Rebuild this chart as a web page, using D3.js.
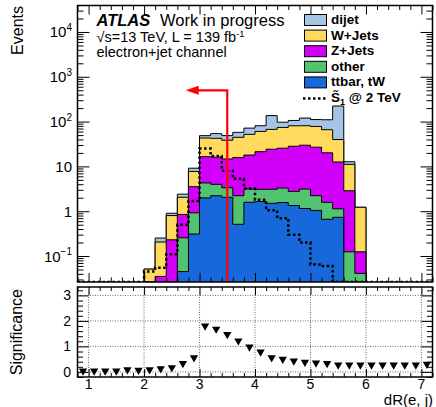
<!DOCTYPE html>
<html><head><meta charset="utf-8">
<script src="https://cdn.jsdelivr.net/npm/d3@7"></script>
<style>
body{margin:0;background:#fff}
svg{display:block}
text{font-family:"Liberation Sans",Arial,Helvetica,sans-serif;fill:#000}
</style>
</head><body>
<svg id="c" width="436" height="407"></svg>
<script>
// ---------------- data ----------------
const binWidth = 0.2;
// stacked background bins (lower edges)
const stackBins = [2.0,2.2,2.4,2.6,2.8,3.0,3.2,3.4,3.6,3.8,4.0,4.2,4.4,4.6,4.8,5.0,5.2,5.4,5.6,5.8];
const ttbar = [0,0,0,0.045,0.31,1.98,2.22,2.04,0.51,1.58,1.64,1.5,1.56,1.34,1.15,1.04,0.66,0.73,0,0];
const other = [0,0,0,0.21,0.61,2.3,1.76,1.3,1.71,1.54,1.45,1.59,1.73,1.43,1.97,1.18,0.92,0.4,0.124,0.041];
const zjets = [0.003,0.035,0.23,0.59,2.6,12.2,12.1,11.3,13.5,14.8,18.2,21.1,22.2,25.4,26.6,24.6,18.5,11.4,2.74,0.083];
const wjets = [0.048,0.17,0.57,1.2,4.2,26.5,26.3,23.7,28.9,34,39.1,42.8,48.6,52.6,51.1,51.2,45.8,27.2,8.24,1.1];
const dijet = [0,0.047,0.10,0.36,1.4,5.6,11.4,10.3,12.9,19.6,20.4,69,22.9,25.2,39,33,44,183,1.6,0];

// signal and significance, bins from 0.8 to 7.2
const allBins = [0.8,1.0,1.2,1.4,1.6,1.8,2.0,2.2,2.4,2.6,2.8,3.0,3.2,3.4,3.6,3.8,4.0,4.2,4.4,4.6,4.8,5.0,5.2,5.4,5.6,5.8,6.0,6.2,6.4,6.6,6.8,7.0];
const signal = [0,0,0,0,0,0,0.045,0.055,0.11,0.5,1.7,25,17,8,5.3,3.2,1.8,1.05,0.7,0.3,0.2,0.065,0.06,0,0,0,0,0,0,0,0,0];
const significance = [0.04,0.04,0.04,0.04,0.09,0.07,0.09,0.13,0.17,0.33,0.56,1.8,1.68,1.47,1.22,0.98,0.78,0.56,0.5,0.43,0.38,0.35,0.33,0.27,0.27,0.27,0.27,0.27,0.27,0.27,0.27,0.3];

const legendLabels = ["dijet","W+Jets","Z+Jets","other","ttbar, tW"];
const legendColors = ["#a6c4e6","#ffda5c","#d200fa","#52c370","#1768da"];
const stackKeys = ["ttbar","other","zjets","wjets","dijet"];
const stackColors = {ttbar:"#1768da",other:"#52c370",zjets:"#d200fa",wjets:"#ffda5c",dijet:"#a6c4e6"};

const logMajorTicks = [0.1,1,10,100,1000,10000];
const xMajorTicks = [1,2,3,4,5,6,7];
const sigMajorTicks = [0,1,2,3];
const cutValue = 3.5, arrowLevel = 500, arrowTip = 2.75;

// ---------------- layout ----------------
const svg = d3.select("#c");
const fx0 = 77.5, fx1 = 432.5, uy0 = 5.5, uy1 = 282, ly0 = 287, ly1 = 377;
const x = d3.scaleLinear().domain([0.8,7.2]).range([fx0,fx1]);
const y = d3.scaleLog().domain([0.0263,3.9e4]).range([uy1,uy0]);
const yl = d3.scaleLinear().domain([-0.2,3.33]).range([ly1,ly0]);
const ymin = y.domain()[0];

svg.append("defs").append("clipPath").attr("id","upclip")
  .append("rect").attr("x",fx0).attr("y",uy0).attr("width",fx1-fx0).attr("height",uy1-uy0);

// ---------------- stacked histogram ----------------
const rows = stackBins.map((b,i)=>({bin:b, ttbar:ttbar[i], other:other[i], zjets:zjets[i], wjets:wjets[i], dijet:dijet[i]}));
const series = d3.stack().keys(stackKeys)(rows);
const line = d3.line().x(d=>d[0]).y(d=>d[1]);
const up = svg.append("g").attr("clip-path","url(#upclip)");

series.slice().reverse().forEach(s=>{
  const pts = [[x(stackBins[0]), y(ymin)]];
  s.forEach((d,i)=>{
    const v = Math.max(d[1], ymin);
    pts.push([x(stackBins[i]), y(v)]);
    pts.push([x(stackBins[i]+binWidth), y(v)]);
  });
  pts.push([x(stackBins[stackBins.length-1]+binWidth), y(ymin)]);
  up.append("path").attr("d", line(pts))
    .attr("fill", stackColors[s.key]).attr("stroke","#000").attr("stroke-width",1);
});

// signal dotted step line
{
  const pts = [];
  allBins.forEach((b,i)=>{
    const v = Math.max(signal[i], ymin);
    pts.push([x(b), y(v)]);
    pts.push([x(b+binWidth), y(v)]);
  });
  up.append("path").attr("d", line(pts)).attr("fill","none")
    .attr("stroke","#000").attr("stroke-width",2.5).attr("stroke-dasharray","2.5,2.5");
}

// red cut arrow
{
  const g = svg.append("g");
  g.append("path").attr("d", line([[x(cutValue), y(ymin)],[x(cutValue), y(arrowLevel)],[x(arrowTip)+10, y(arrowLevel)]]))
    .attr("fill","none").attr("stroke","#ff0000").attr("stroke-width",2.2);
  const tx = x(arrowTip), ty = y(arrowLevel);
  g.append("path").attr("d", line([[tx,ty],[tx+13,ty-4.5],[tx+13,ty+4.5]])+"Z").attr("fill","#ff0000");
}

// ---------------- upper axes ----------------
function logMinors(){
  const out = [];
  [0.01,0.1,1,10,100,1000,10000].forEach(d=>{
    for(let m=2;m<=9;m++){ const v=d*m; if(v>=y.domain()[0] && v<=y.domain()[1]) out.push(v); }
  });
  return out;
}
function xMinors(lo,hi){
  const out=[]; for(let k=Math.ceil(lo/0.2);k*0.2<=hi+1e-9;k++){ const v=+(k*0.2).toFixed(2); if(Math.abs(v-Math.round(v))>1e-6) out.push(v);} return out;
}
const noDomain = g=>g.select(".domain").remove();
const tickStroke = g=>g.selectAll("line").attr("stroke","#000").attr("stroke-width",1);

svg.append("g").attr("transform",`translate(${fx0},0)`)
  .call(d3.axisLeft(y).tickValues(logMajorTicks).tickSize(-12).tickFormat("")).call(noDomain).call(tickStroke);
svg.append("g").attr("transform",`translate(${fx0},0)`)
  .call(d3.axisLeft(y).tickValues(logMinors()).tickSize(-6).tickFormat("")).call(noDomain).call(tickStroke);
svg.append("g").attr("transform",`translate(${fx1},0)`)
  .call(d3.axisRight(y).tickValues(logMajorTicks).tickSize(-12).tickFormat("")).call(noDomain).call(tickStroke);
svg.append("g").attr("transform",`translate(${fx1},0)`)
  .call(d3.axisRight(y).tickValues(logMinors()).tickSize(-6).tickFormat("")).call(noDomain).call(tickStroke);

const xmin = xMinors(0.8,7.2);
[[uy1,d3.axisBottom],[uy0,d3.axisTop]].forEach(([yy,ax])=>{
  svg.append("g").attr("transform",`translate(0,${yy})`)
    .call(ax(x).tickValues(xMajorTicks).tickSize(-9).tickFormat("")).call(noDomain).call(tickStroke);
  svg.append("g").attr("transform",`translate(0,${yy})`)
    .call(ax(x).tickValues(xmin).tickSize(-4.5).tickFormat("")).call(noDomain).call(tickStroke);
});

// y labels (log)
const yLab = svg.append("g").style("font-size","15px");
logMajorTicks.forEach(v=>{
  const e = Math.round(Math.log10(v));
  const t = yLab.append("text").attr("x",72).attr("y",y(v)+5.5).attr("text-anchor","end");
  if(e===0) t.text("1");
  else if(e===1) t.text("10");
  else { t.append("tspan").text("10"); t.append("tspan").attr("dy",-6.5).style("font-size","10px").text(e<0?"\u2212"+(-e):String(e)); }
});

svg.append("text").attr("transform","translate(23,6) rotate(-90)").attr("text-anchor","end")
  .style("font-size","16px").text("Events");

// frame upper
svg.append("rect").attr("x",fx0).attr("y",uy0).attr("width",fx1-fx0).attr("height",uy1-uy0)
  .attr("fill","none").attr("stroke","#000").attr("stroke-width",1.5);

// ---------------- texts ----------------
svg.append("text").attr("x",96.5).attr("y",26).style("font-size","16.5px").style("font-weight","bold").style("font-style","italic").text("ATLAS");
svg.append("text").attr("x",160).attr("y",26).style("font-size","16.5px").text("Work in progress");
{
  const t = svg.append("text").attr("x",96.5).attr("y",42).style("font-size","14.5px");
  t.append("tspan").text("\u221As=13 TeV, L = 139 fb");
  t.append("tspan").attr("dy",-5).style("font-size","9.5px").text("-1");
}
svg.append("text").attr("x",96.5).attr("y",57).style("font-size","14.5px").text("electron+jet channel");

// legend
const leg = svg.append("g");
const legY = i=> 24 + i*15.6;
legendLabels.forEach((lab,i)=>{
  leg.append("rect").attr("x",304.5).attr("y",legY(i)-9.5).attr("width",22).attr("height",11)
    .attr("fill",legendColors[i]).attr("stroke","#000").attr("stroke-width",1);
  leg.append("text").attr("x",331).attr("y",legY(i)).style("font-size","13.5px").style("font-weight","bold").text(lab);
});
{
  const i = legendLabels.length;
  leg.append("line").attr("x1",303).attr("x2",327).attr("y1",legY(i)-3.5).attr("y2",legY(i)-3.5)
    .attr("stroke","#000").attr("stroke-width",2.5).attr("stroke-dasharray","2.5,2.5");
  const t = leg.append("text").attr("x",331).attr("y",legY(i)).style("font-size","13.5px").style("font-weight","bold");
  t.append("tspan").text("S\u0303");
  t.append("tspan").attr("dy",3).style("font-size","9px").text("1");
  t.append("tspan").attr("dy",-3).text(" @ 2 TeV");
}

// ---------------- lower panel ----------------
const lo = svg.append("g");
// grid
xMajorTicks.forEach(v=>{
  lo.append("line").attr("x1",x(v)).attr("x2",x(v)).attr("y1",ly0).attr("y2",ly1)
    .attr("stroke","#444").attr("stroke-width",0.8).attr("stroke-dasharray","1,1.5");
});
sigMajorTicks.forEach(v=>{
  lo.append("line").attr("x1",fx0).attr("x2",fx1).attr("y1",yl(v)).attr("y2",yl(v))
    .attr("stroke","#444").attr("stroke-width",0.8).attr("stroke-dasharray","1,1.5");
});
// markers
const tri = d3.symbol().type(d3.symbolTriangle).size(30);
allBins.forEach((b,i)=>{
  lo.append("path").attr("d",tri()).attr("fill","#000")
    .attr("transform",`translate(${x(b+binWidth/2)},${yl(significance[i])}) rotate(180)`);
});
// axes
const sigMinors = d3.range(-0.2,3.33,0.2).map(v=>+v.toFixed(2)).filter(v=>Math.abs(v-Math.round(v))>1e-6);
[[fx0,d3.axisLeft],[fx1,d3.axisRight]].forEach(([xx,ax])=>{
  lo.append("g").attr("transform",`translate(${xx},0)`).call(ax(yl).tickValues(sigMajorTicks).tickSize(-11).tickFormat("")).call(noDomain).call(tickStroke);
  lo.append("g").attr("transform",`translate(${xx},0)`).call(ax(yl).tickValues(sigMinors).tickSize(-5.5).tickFormat("")).call(noDomain).call(tickStroke);
});
[[ly1,d3.axisBottom],[ly0,d3.axisTop]].forEach(([yy,ax])=>{
  lo.append("g").attr("transform",`translate(0,${yy})`).call(ax(x).tickValues(xMajorTicks).tickSize(-8).tickFormat("")).call(noDomain).call(tickStroke);
  lo.append("g").attr("transform",`translate(0,${yy})`).call(ax(x).tickValues(xmin).tickSize(-4).tickFormat("")).call(noDomain).call(tickStroke);
});
lo.append("rect").attr("x",fx0).attr("y",ly0).attr("width",fx1-fx0).attr("height",ly1-ly0)
  .attr("fill","none").attr("stroke","#000").attr("stroke-width",1.5);
// labels
sigMajorTicks.forEach(v=>{
  lo.append("text").attr("x",71).attr("y",yl(v)+5).attr("text-anchor","end").style("font-size","14px").text(v);
});
xMajorTicks.forEach(v=>{
  lo.append("text").attr("x",x(v)).attr("y",389).attr("text-anchor","middle").style("font-size","14px").text(v);
});
svg.append("text").attr("x",433).attr("y",404.5).attr("text-anchor","end").style("font-size","15px").text("dR(e, j)");
svg.append("text").attr("transform","translate(22,289) rotate(-90)").attr("text-anchor","end")
  .style("font-size","16px").text("Significance");
</script>
</body></html>
